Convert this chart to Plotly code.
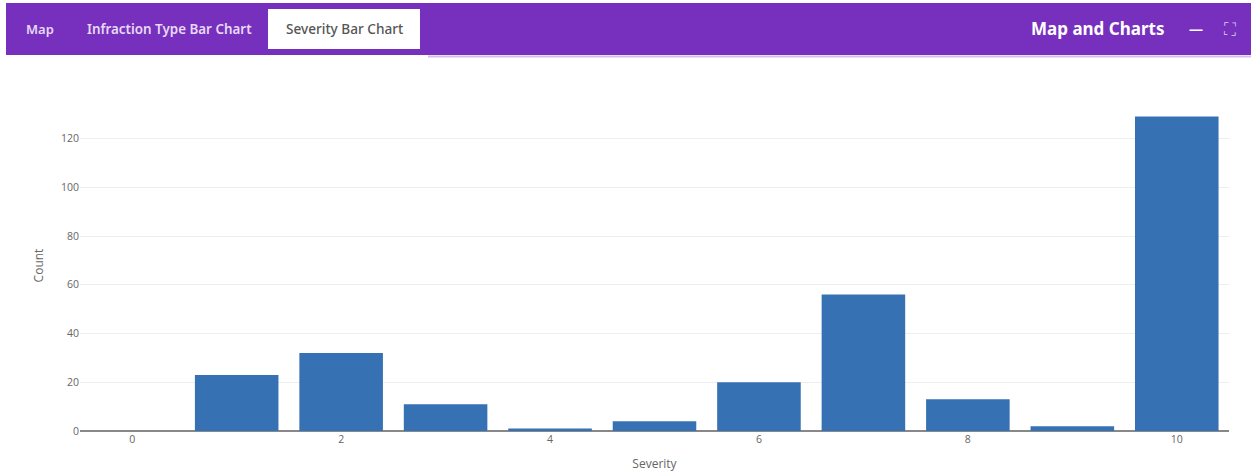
import plotly.graph_objects as go

# Data
severity = [0, 1, 2, 3, 4, 5, 6, 7, 8, 9, 10]
counts = [0, 23, 32, 11, 1, 4, 20, 56, 13, 2, 129]

W, H = 1251, 474
ML, MR, MT, MB = 80, 22, 100, 43
PW = W - ML - MR
PH = H - MT - MB


def px(x):
    return (x - ML) / PW


def py(y):
    return (H - MB - y) / PH


PURPLE = "#7730BD"

fig = go.Figure(
    go.Bar(
        x=severity,
        y=counts,
        marker=dict(color="#3672B3", line=dict(width=0)),
        hoverinfo="x+y",
    )
)

shapes = [
    # header bar
    dict(type="rect", xref="paper", yref="paper", x0=px(6), x1=px(1251), y0=py(55), y1=py(3),
         fillcolor=PURPLE, line=dict(width=0), layer="above"),
    # active tab
    dict(type="rect", xref="paper", yref="paper", x0=px(268), x1=px(420), y0=py(49), y1=py(9),
         fillcolor="white", line=dict(width=0), layer="above"),
    # thin underline
    dict(type="rect", xref="paper", yref="paper", x0=px(428), x1=px(1251), y0=py(57.5), y1=py(55.5),
         fillcolor="#D2BDEB", line=dict(width=0), layer="above"),
]

TAB_FONT = "Noto Sans"
annotations = [
    dict(text="Map", x=px(40), y=py(29), font=dict(family=TAB_FONT, size=13, color="#E6D9F5", weight=600)),
    dict(text="Infraction Type Bar Chart", x=px(169), y=py(29),
         font=dict(family=TAB_FONT, size=13.4, color="#E6D9F5", weight=600)),
    dict(text="Severity Bar Chart", x=px(344), y=py(29),
         font=dict(family=TAB_FONT, size=13.6, color="#555555", weight=500)),
    dict(text="Map and Charts", x=px(1166), y=py(28), xanchor="right",
         font=dict(family=TAB_FONT, size=17, color="white", weight=700)),
    dict(text="—", x=px(1196), y=py(28), font=dict(family=TAB_FONT, size=14, color="white", weight=700)),
    dict(text="⛶", x=px(1230), y=py(29), font=dict(family="DejaVu Sans", size=17, color="#DCCCF2")),
]
for a in annotations:
    a.update(xref="paper", yref="paper", showarrow=False, yanchor="middle")
    a.setdefault("xanchor", "center")

fig.update_layout(
    width=W,
    height=H,
    margin=dict(l=ML, r=MR, t=MT, b=MB, pad=0, autoexpand=False),
    paper_bgcolor="white",
    plot_bgcolor="white",
    font=dict(family="Open Sans", color="#666666"),
    bargap=0.2,
    showlegend=False,
    shapes=shapes,
    annotations=annotations,
    xaxis=dict(
        title=dict(text="Severity", font=dict(size=12, color="#666666"), standoff=15),
        automargin=False,
        range=[-0.5, 10.5],
        tickvals=[0, 2, 4, 6, 8, 10],
        tickfont=dict(size=10.5, color="#666666"),
        showgrid=False,
        zeroline=False,
        showline=False,
        ticks="",
    ),
    yaxis=dict(
        title=dict(text="Count", font=dict(size=12, color="#666666"), standoff=14),
        automargin=False,
        range=[0, 135.8],
        tickvals=[0, 20, 40, 60, 80, 100, 120],
        tickfont=dict(size=10.5, color="#666666"),
        gridcolor="#EEEEEE",
        gridwidth=1,
        zeroline=True,
        zerolinecolor="#888888",
        zerolinewidth=1.5,
        showline=False,
        ticks="",
    ),
)

fig.write_html("out.html")
